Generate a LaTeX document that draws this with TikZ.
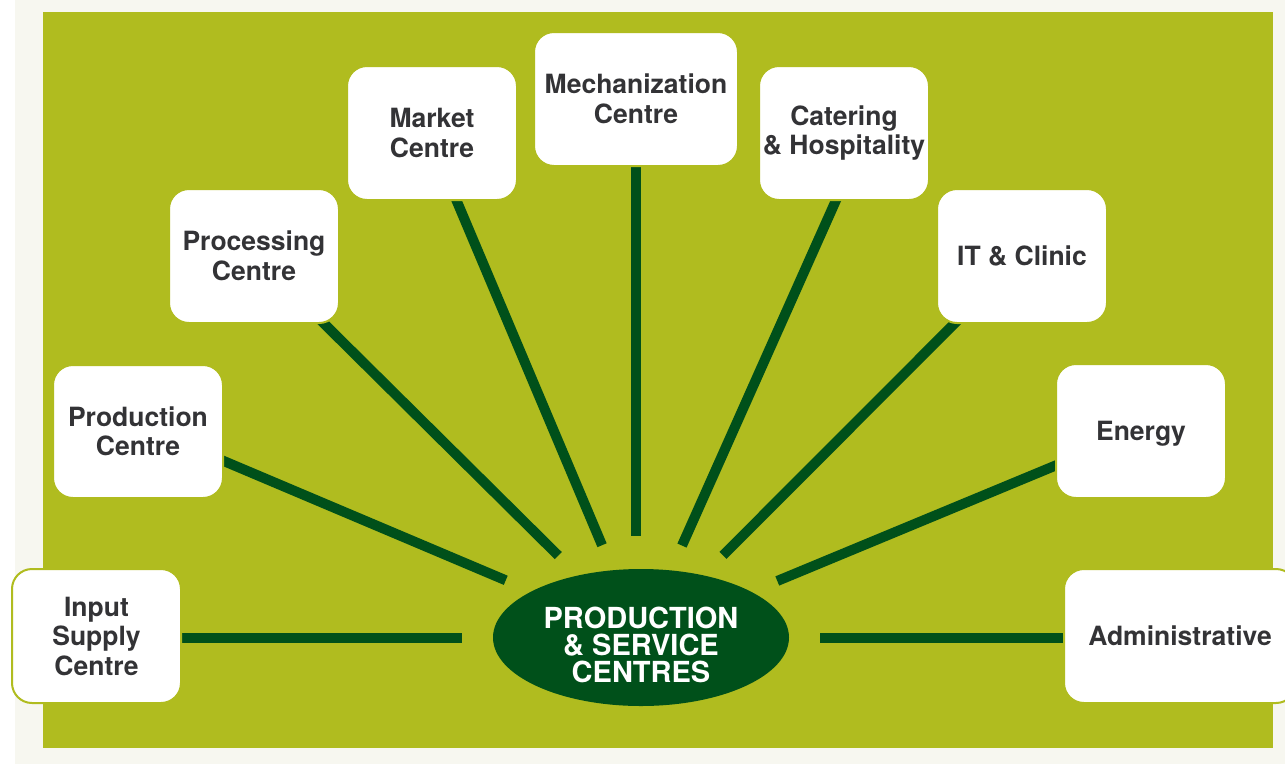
\documentclass[tikz,border=0pt]{standalone}
\usepackage{fontspec}
\setmainfont{TeX Gyre Heros}
\usetikzlibrary{shapes.geometric}
\definecolor{bggreen}{HTML}{B0BC1F}
\definecolor{darkgreen}{HTML}{00501A}
\definecolor{offwhite}{HTML}{F7F7F0}
\definecolor{txtgray}{HTML}{333336}
\pgfdeclarelayer{back}
\pgfdeclarelayer{mid}
\pgfsetlayers{back,mid,main}
\tikzset{
  centrebox/.style={rectangle, rounded corners=20pt, fill=white, draw=bggreen, line width=2pt,
    minimum width=170pt, minimum height=134pt, inner sep=0pt, align=center, text=txtgray,
    font=\bfseries\fontsize{26.5}{29.5}\selectfont},
  spoke/.style={draw=darkgreen, line width=10pt, line cap=butt, shorten <=-8pt},
  hub/.style={ellipse, fill=darkgreen, minimum width=296pt, minimum height=137pt, inner sep=0pt},
  hubtext/.style={text=white, align=center, inner sep=0pt, font=\bfseries\fontsize{29}{27}\selectfont}
}
\begin{document}
\begin{tikzpicture}[x=1pt,y=-1pt]
\useasboundingbox (0,0) rectangle (1285,764);
\begin{pgfonlayer}{back}
\fill[white] (0,0) rectangle (1285,764);
\fill[offwhite] (15,0) rectangle (1285,764);
\fill[bggreen] (43,12) rectangle (1273,748);
\end{pgfonlayer}

\node[hub] (ell) at (641,637.5) {};
\node[hubtext] (elltext) at (641,644.5) {PRODUCTION\\\& SERVICE\\CENTRES};

\node[centrebox, minimum width=169pt] (inp) at (96.5,636) {Input\\Supply\\Centre};
\node[centrebox, minimum height=133pt] (prod) at (138,431.5) {Production\\Centre};
\node[centrebox] (proc) at (254,256) {Processing\\Centre};
\node[centrebox] (mkt) at (432,133) {Market\\Centre};
\node[centrebox, minimum width=204pt] (mech) at (636,99) {Mechanization\\Centre};
\node[centrebox] (cat) at (844,133) {Catering\\\& Hospitality};
\node[centrebox] (it) at (1022,256) {IT \& Clinic};
\node[centrebox, text depth=0pt] (ene) at (1141,431) {Energy};
\node[centrebox, minimum width=232pt] (adm) at (1180,636) {Administrative};

\begin{pgfonlayer}{mid}
\draw[spoke, shorten >=31pt] (inp.east |- ell.center) -- (ell);
\draw[spoke, shorten >=31pt] (adm.west |- ell.center) -- (ell);
\draw[spoke, shorten >=33pt] (mech.south) -- (mech.south |- ell.north);
\draw[spoke, shorten >=28pt] (prod.-19) -- (ell);
\draw[spoke, shorten >=28pt] (proc.-44) -- (ell);
\draw[spoke, shorten >=27pt] (mkt.-70) -- (ell);
\draw[spoke, shorten >=27pt] (cat.-97) -- (ell);
\draw[spoke, shorten >=28pt] (it.-135) -- (ell);
\draw[spoke, shorten >=28pt] (ene.202) -- (ell);
\end{pgfonlayer}
\end{tikzpicture}
\end{document}
